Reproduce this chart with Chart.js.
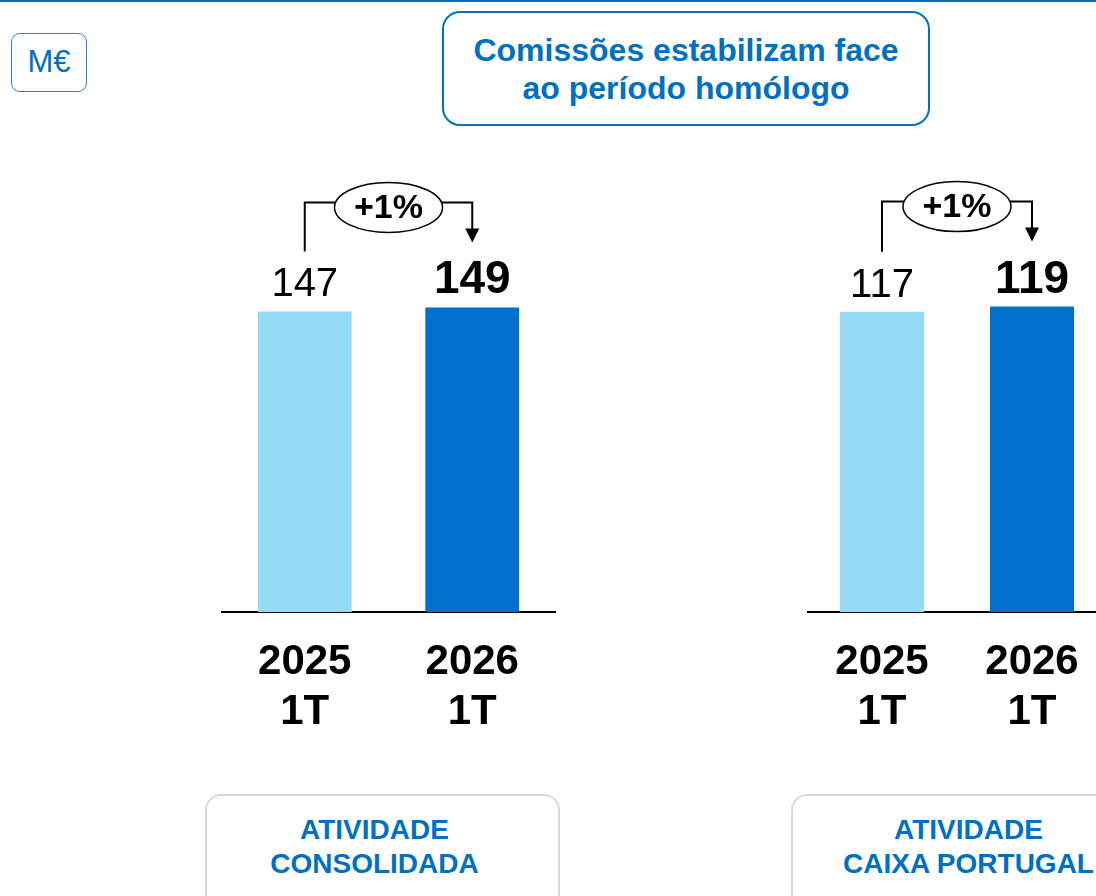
<!DOCTYPE html>
<html><head><meta charset="utf-8">
<script src="https://cdn.jsdelivr.net/npm/chart.js@4.4.1/dist/chart.umd.min.js"></script>
<style>
html,body{margin:0;padding:0;width:1096px;height:896px;overflow:hidden;background:#fff;font-family:"Liberation Sans",Arial,sans-serif;}
#page{position:relative;width:1096px;height:896px;overflow:hidden;}
.abs{position:absolute;box-sizing:border-box;}
#topline{left:0;top:0;width:1096px;height:2px;background:#0070C0;}
#unit{left:11px;top:33px;width:76px;height:59px;border:1.5px solid #2F80CA;border-radius:9px;color:#0070C0;font-size:31px;line-height:56px;text-align:center;}
#title{left:442px;top:11px;width:488px;height:115px;border:2.5px solid #0070C0;border-radius:18px;color:#0070C0;font-weight:bold;font-size:32px;line-height:38px;text-align:center;padding-top:18px;}
.panel{top:794px;width:355px;height:130px;border:2px solid #D9D9D9;border-radius:16px;color:#0070C0;font-weight:bold;font-size:28px;line-height:34px;padding-top:17px;}
.panel div{position:absolute;left:0;width:335px;text-align:center;}
canvas{position:absolute;}
</style>
</head><body>
<div id="page">
  <div class="abs" id="topline"></div>
  <div class="abs" id="unit">M€</div>
  <div class="abs" id="title">Comissões estabilizam face<br>ao período homólogo</div>
  <canvas id="c1" width="335" height="590" style="left:221px;top:150px;"></canvas>
  <canvas id="c2" width="300" height="590" style="left:807px;top:150px;"></canvas>
  <div class="abs panel" id="p1" style="left:205px;"></div>
  <div class="abs panel" id="p2" style="left:791px;"></div>
</div>
<script>
// ---- data ----
const periods = ['2025', '2026'];
const quarter = '1T';
const consolidatedValues = [147, 149];
const portugalValues = [117, 119];
const changeLabels = ['+1%', '+1%'];
const panelLines1 = ['ATIVIDADE', 'CONSOLIDADA'];
const panelLines2 = ['ATIVIDADE', 'CAIXA PORTUGAL'];
const barColors = ['#96D9F5', '#0070CC'];
const yMaxConsolidated = 226;
const yMaxPortugal = 180;

const FONT = '"Liberation Sans", Arial, sans-serif';
const categoryLabels = periods.map(p => [p, quarter]);

function fillPanel(id, lines, offset) {
  const el = document.getElementById(id);
  lines.forEach((t, i) => {
    const d = document.createElement('div');
    d.textContent = t;
    d.style.top = (17 + i * 34) + 'px';
    d.style.left = offset + 'px';
    el.appendChild(d);
  });
}
fillPanel('p1', panelLines1, 0);
fillPanel('p2', panelLines2, 8);

const changeAnnot = {
  id: 'changeAnnot',
  afterDatasetsDraw(chart, args, opts) {
    const meta = chart.getDatasetMeta(0);
    const vals = chart.data.datasets[0].data;
    const b0 = meta.data[0], b1 = meta.data[1];
    const ctx = chart.ctx;
    ctx.save();
    ctx.fillStyle = '#000';
    ctx.textAlign = 'center';
    ctx.textBaseline = 'alphabetic';
    ctx.font = '40px ' + FONT;
    ctx.fillText(String(vals[0]), b0.x, b0.y - 15);
    ctx.font = 'bold 46px ' + FONT;
    ctx.fillText(String(vals[1]), b1.x, b1.y - 14);

    const lineY = Math.min(b0.y, b1.y) - 105;
    const tip = b1.y - 65;
    ctx.strokeStyle = '#000';
    ctx.lineWidth = 2;
    ctx.beginPath();
    ctx.moveTo(b0.x, b0.y - 60);
    ctx.lineTo(b0.x, lineY);
    ctx.lineTo(b1.x, lineY);
    ctx.lineTo(b1.x, tip - 13);
    ctx.stroke();
    ctx.beginPath();
    ctx.moveTo(b1.x - 7, tip - 14);
    ctx.lineTo(b1.x + 7, tip - 14);
    ctx.lineTo(b1.x, tip);
    ctx.closePath();
    ctx.fill();

    const cx = (b0.x + b1.x) / 2, cy = lineY + 5;
    ctx.beginPath();
    ctx.ellipse(cx, cy, 54, 25, 0, 0, Math.PI * 2);
    ctx.fillStyle = '#fff';
    ctx.fill();
    ctx.lineWidth = 1.5;
    ctx.stroke();
    ctx.fillStyle = '#000';
    ctx.font = 'bold 34px ' + FONT;
    ctx.textBaseline = 'middle';
    ctx.fillText(opts.label, cx, cy + 1);
    ctx.restore();
  }
};

function makeChart(id, values, yMax, change) {
  return new Chart(document.getElementById(id), {
    type: 'bar',
    data: {
      labels: categoryLabels,
      datasets: [{
        data: values,
        backgroundColor: barColors,
        borderWidth: 0,
        barPercentage: 0.56,
        categoryPercentage: 1
      }]
    },
    options: {
      responsive: false,
      animation: false,
      devicePixelRatio: 1,
      layout: { padding: 0 },
      plugins: {
        legend: { display: false },
        tooltip: { enabled: false },
        changeAnnot: { label: change }
      },
      scales: {
        x: {
          grid: { display: false },
          border: { display: true, color: '#000', width: 2 },
          ticks: {
            color: '#000',
            padding: 17,
            maxRotation: 0,
            autoSkip: false,
            font: { family: FONT, size: 42, weight: 'bold', lineHeight: 1.2 }
          },
          afterFit(scale) { scale.height = 128; }
        },
        y: { display: false, min: 0, max: yMax }
      }
    },
    plugins: [changeAnnot]
  });
}

makeChart('c1', consolidatedValues, yMaxConsolidated, changeLabels[0]);
makeChart('c2', portugalValues, yMaxPortugal, changeLabels[1]);
</script>
</body></html>
